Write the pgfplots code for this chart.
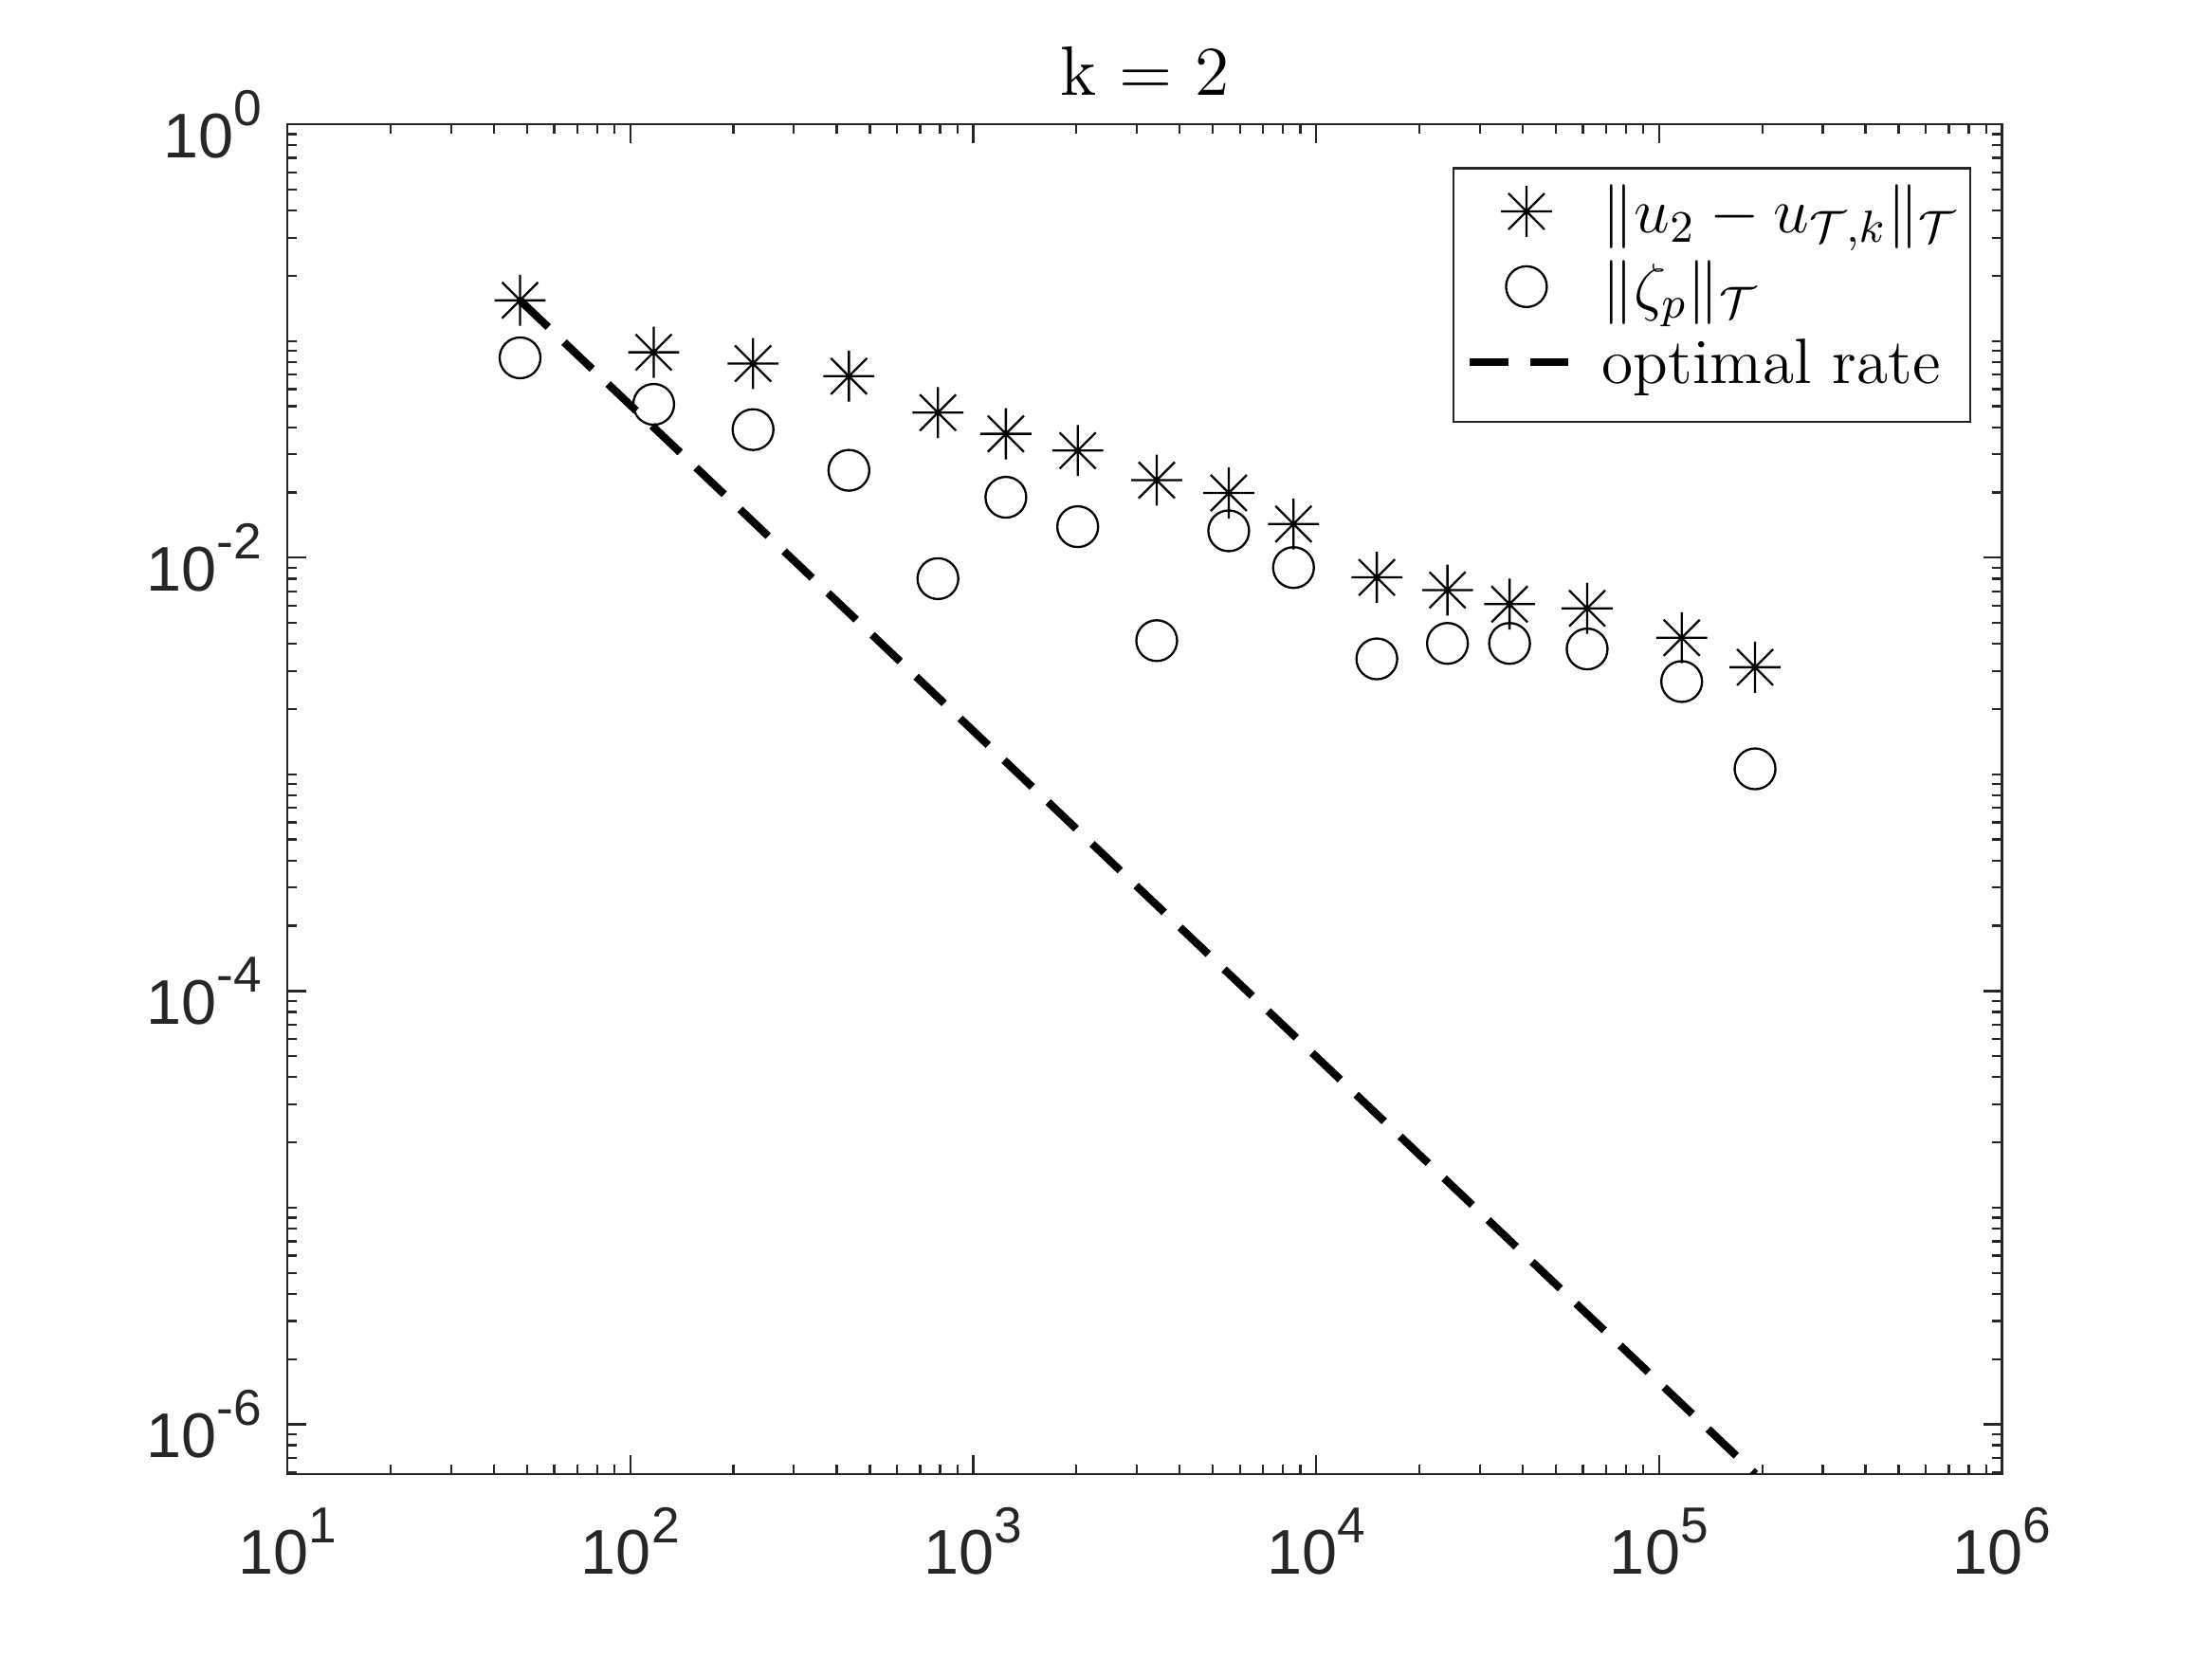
\documentclass[border=0pt]{standalone}
\usepackage{fix-cm}
\usepackage{fontspec}
\usepackage{pgfplots}
\pgfplotsset{compat=1.18}
\newfontfamily\ticksf{Liberation Sans}
\newcommand{\tl}[1]{10\raisebox{6.6pt}{\fontsize{10.4}{10.4}\selectfont #1}}
\definecolor{axgray}{RGB}{38,38,38}

% MATLAB-style 8-point asterisk
\pgfdeclareplotmark{mstar}{%
  \pgfpathmoveto{\pgfqpoint{0pt}{\pgfplotmarksize}}%
  \pgfpathlineto{\pgfqpoint{0pt}{-\pgfplotmarksize}}%
  \pgfpathmoveto{\pgfqpoint{\pgfplotmarksize}{0pt}}%
  \pgfpathlineto{\pgfqpoint{-\pgfplotmarksize}{0pt}}%
  \pgfpathmoveto{\pgfqpoint{0.7071\pgfplotmarksize}{0.7071\pgfplotmarksize}}%
  \pgfpathlineto{\pgfqpoint{-0.7071\pgfplotmarksize}{-0.7071\pgfplotmarksize}}%
  \pgfpathmoveto{\pgfqpoint{-0.7071\pgfplotmarksize}{0.7071\pgfplotmarksize}}%
  \pgfpathlineto{\pgfqpoint{0.7071\pgfplotmarksize}{-0.7071\pgfplotmarksize}}%
  \pgfusepathqstroke}

\pgfplotsset{
  markleg/.style={legend image code/.code={%
    \draw[##1, only marks] plot coordinates {(0.41cm,0.06cm)};}},
  lineleg/.style={legend image code/.code={\draw[##1] (0cm,0.06cm) -- (0.71cm,0.06cm);}},
}

\begin{document}
\begin{tikzpicture}
\useasboundingbox (-2.08cm,-1.33cm) rectangle (13.93cm,10.67cm);
\begin{axis}[
    scale only axis,
    width=12.41cm, height=9.77cm,
    xmode=log, ymode=log,
    xmin=10, xmax=1e6,
    ymin=5.9e-7, ymax=1,
    xtick={10,100,1000,1e4,1e5,1e6},
    xticklabels={\tl{1},\tl{2},\tl{3},\tl{4},\tl{5},\tl{6}},
    ytick={1e-6,1e-4,1e-2,1},
    yticklabels={\tl{-6},\tl{-4},\tl{-2},\tl{0}},
    minor xtick={20,30,40,50,60,70,80,90,
      200,300,400,500,600,700,800,900,
      2e3,3e3,4e3,5e3,6e3,7e3,8e3,9e3,
      2e4,3e4,4e4,5e4,6e4,7e4,8e4,9e4,
      2e5,3e5,4e5,5e5,6e5,7e5,8e5,9e5},
    minor ytick={6e-7,7e-7,8e-7,9e-7,
      2e-6,3e-6,4e-6,5e-6,6e-6,7e-6,8e-6,9e-6,1e-5,
      2e-5,3e-5,4e-5,5e-5,6e-5,7e-5,8e-5,9e-5,
      2e-4,3e-4,4e-4,5e-4,6e-4,7e-4,8e-4,9e-4,1e-3,
      2e-3,3e-3,4e-3,5e-3,6e-3,7e-3,8e-3,9e-3,
      2e-2,3e-2,4e-2,5e-2,6e-2,7e-2,8e-2,9e-2,1e-1,
      2e-1,3e-1,4e-1,5e-1,6e-1,7e-1,8e-1,9e-1},
    tick align=inside,
    major tick length=0.137cm,
    minor tick length=0.07cm,
    axis line style={axgray, line width=0.45pt},
    every tick/.style={axgray, line width=0.45pt},
    tick label style={font=\ticksf\fontsize{13}{13}\selectfont, text=axgray},
    xticklabel style={anchor=base, yshift=-0.727cm},
    yticklabel style={anchor=east, inner sep=0pt, xshift=-0.178cm},
    title={k = 2},
    every axis title shift=0pt,
    title style={font=\fontsize{14.4}{14.4}\selectfont, anchor=base, yshift=0.213cm},
    legend cell align=left,
    legend style={at={(1,1)}, anchor=north east, xshift=-0.22cm, yshift=-0.31cm,
      draw=axgray, line width=0.45pt,
      font=\fontsize{13.2}{13.2}\selectfont,
      inner xsep=0.09cm, inner ysep=0.1cm,
      column sep=0.22cm, row sep=0pt,
      nodes={inner sep=0pt, text height=10.5pt, text depth=5pt}},
]
\addplot[only marks, mark=mstar, mark size=5.25pt, mark options={line width=0.45pt}, black, markleg]
  coordinates {
  (47.7,0.154) (117,0.0887) (228,0.0787) (434,0.0688) (789,0.0467)
  (1245,0.0373) (2017,0.0312) (3428,0.0228) (5560,0.0199) (8590,0.0143)
  (15030,0.00811) (24150,0.00709) (36650,0.00610) (61700,0.00584)
  (116400,0.00427) (190500,0.00312)
};
\addlegendentry{$\|u_2 - u_{\mathcal{T},k}\|_{\mathcal{T}}$}
\addplot[only marks, mark=o, mark size=4.2pt, mark options={line width=0.45pt}, black, markleg]
  coordinates {
  (47.7,0.0836) (117,0.0510) (228,0.0390) (434,0.0253) (789,0.0080)
  (1245,0.0190) (2017,0.0139) (3428,0.00414) (5560,0.0133) (8590,0.0090)
  (15030,0.00341) (24150,0.00402) (36650,0.00402) (61700,0.00379)
  (116400,0.00268) (190500,0.00106)
};
\addlegendentry{$\|\zeta_p\|_{\mathcal{T}}$}
\addplot[black, line width=1.6pt, dash pattern=on 8pt off 4.5pt, lineleg]
  coordinates {(47.7,0.154) (191000,5.9e-7)};
\addlegendentry{optimal rate}
\end{axis}
\end{tikzpicture}
\end{document}
